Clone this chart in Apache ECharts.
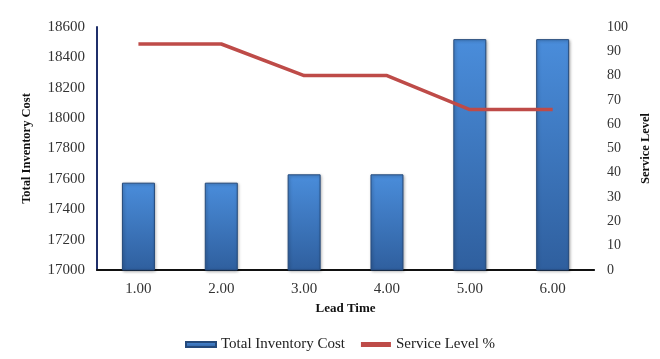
<!DOCTYPE html>
<html>
<head>
<meta charset="utf-8">
<script src="https://cdn.jsdelivr.net/npm/echarts@6/dist/echarts.min.js"></script>
<style>
html, body { margin: 0; padding: 0; background: #fff; }
#chart { width: 660px; height: 359px; }
</style>
</head>
<body>
<div id="chart"></div>
<script>
var leadTime = ['1.00', '2.00', '3.00', '4.00', '5.00', '6.00'];
var inventoryCost = [17575, 17575, 17630, 17630, 18520, 18520];
var serviceLevel = [93, 93, 80, 80, 66, 66];

var myChart = echarts.init(document.getElementById('chart'));

var serif = 'Liberation Serif';

option = {
    animation: false,
    textStyle: { fontFamily: serif },
    grid: { left: 97, right: 65, top: 27, bottom: 89 },
    legend: {
        top: 332,
        left: 180,
        itemGap: 16,
        itemWidth: 30,
        itemHeight: 5,
        textStyle: { fontFamily: serif, fontSize: 15, color: '#222' },
        data: [
            { name: 'Total Inventory Cost', icon: 'rect' },
            { name: 'Service Level %', icon: 'rect' }
        ]
    },
    xAxis: {
        type: 'category',
        data: leadTime,
        name: 'Lead Time',
        nameLocation: 'middle',
        nameGap: 31,
        nameTextStyle: { fontFamily: serif, fontWeight: 'bold', fontSize: 13, color: '#111' },
        axisLine: { lineStyle: { color: '#111', width: 2 } },
        axisTick: { show: false },
        axisLabel: { fontFamily: serif, fontSize: 15, color: '#333', margin: 12 }
    },
    yAxis: [{
        type: 'value',
        min: 17000,
        max: 18600,
        interval: 200,
        name: 'Total Inventory Cost',
        nameLocation: 'middle',
        nameGap: 64,
        nameTextStyle: { fontFamily: serif, fontWeight: 'bold', fontSize: 12.5, color: '#111' },
        axisLine: { show: true, lineStyle: { color: '#1f2f6a', width: 2 } },
        axisTick: { show: false },
        splitLine: { show: false },
        axisLabel: {
            fontFamily: serif, fontSize: 15, color: '#333', margin: 12,
            formatter: function (v) { return String(v); }
        }
    }, {
        type: 'value',
        min: 0,
        max: 100,
        interval: 10,
        name: 'Service Level',
        nameLocation: 'middle',
        nameGap: 43,
        nameRotate: 90,
        nameTextStyle: { fontFamily: serif, fontWeight: 'bold', fontSize: 12.5, color: '#111' },
        axisLine: { show: false },
        axisTick: { show: false },
        splitLine: { show: false },
        axisLabel: { fontFamily: serif, fontSize: 14, color: '#333', margin: 13 }
    }],
    series: [{
        name: 'Total Inventory Cost',
        type: 'bar',
        data: inventoryCost,
        barWidth: 33,
        itemStyle: {
            color: new echarts.graphic.LinearGradient(0, 0, 0, 1, [
                { offset: 0, color: '#4a8ddb' },
                { offset: 1, color: '#2f5f9e' }
            ]),
            borderColor: '#24497a',
            borderWidth: 1,
            shadowColor: 'rgba(0,0,0,0.35)',
            shadowBlur: 3,
            shadowOffsetX: 1,
            shadowOffsetY: 1
        }
    }, {
        name: 'Service Level %',
        type: 'line',
        yAxisIndex: 1,
        data: serviceLevel,
        symbol: 'none',
        lineStyle: { color: '#be4b48', width: 3.5 },
        itemStyle: { color: '#be4b48' }
    }]
};

myChart.setOption(option);
</script>
</body>
</html>
